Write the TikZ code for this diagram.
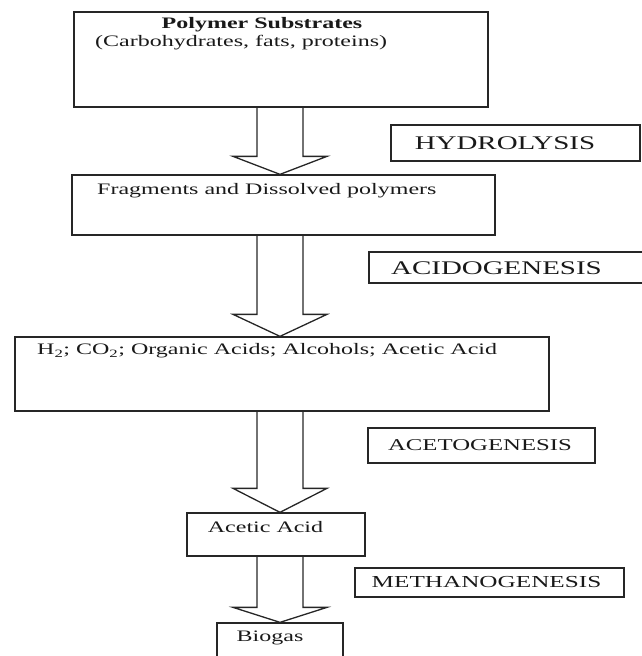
\documentclass[tikz,border=0pt]{standalone}
\usepackage{fontspec}
\setmainfont{Liberation Serif}[FakeStretch=1.5]
\usetikzlibrary{calc}
\tikzset{
  box/.style={draw=black!85, line width=1.3pt, rectangle, inner sep=0pt},
  txt/.style={inner sep=0pt, font=\fontsize{16}{19}\selectfont, text=black!90},
  bigtxt/.style={inner sep=0pt, font=\fontsize{19.3}{23}\selectfont, text=black!90},
  barrow/.style={draw=black!85, line width=1.3pt, line join=miter}
}
\newcommand\blockarrow[3]{%
  \draw[barrow] let \p1=(#1.south), \p2=(#2.north) in
    (257,\y1) -- (257,\y2+#3pt) -- (233,\y2+#3pt) -- (280,\y2)
    -- (327,\y2+#3pt) -- (303,\y2+#3pt) -- (303,\y1);}
\begin{document}
\begin{tikzpicture}[x=1pt,y=-1pt]
\useasboundingbox (0,0) rectangle (642,656);
% main boxes
\node[box, minimum width=414pt, minimum height=95pt] (b1) at (281,59.5) {};
\node[box, minimum width=423pt, minimum height=60pt] (b2) at (283.5,205) {};
\node[box, minimum width=534pt, minimum height=74pt] (b3) at (282,374) {};
\node[box, minimum width=178pt, minimum height=43pt] (b4) at (276,534.5) {};
\node[box, minimum width=126pt, minimum height=45pt] (b5) at (280,645.5) {};
% texts in main boxes
\node[txt, font=\fontsize{16}{19}\selectfont\bfseries] (t1a) at (262,25) {Polymer Substrates};
\node[txt, anchor=west] (t1b) at (95,43) {(Carbohydrates, fats, proteins)};
\node[txt, anchor=west] (t2) at (97,191) {Fragments and Dissolved polymers};
\node[txt, anchor=west] (t3) at (37,351) {H\textsubscript{2}; CO\textsubscript{2}; Organic Acids; Alcohols; Acetic Acid};
\node[txt] (t4) at (265.5,527) {Acetic Acid};
\node[txt] (t5) at (270,638) {Biogas};
% process label boxes
\node[box, minimum width=249pt, minimum height=36pt] (l1) at (515.5,143) {};
\node[bigtxt] (l1t) at (505,143) {HYDROLYSIS};
\node[box, minimum width=277pt, minimum height=31pt] (l2) at (507.5,267.5) {};
\node[bigtxt] (l2t) at (496.5,268) {ACIDOGENESIS};
\node[box, minimum width=227pt, minimum height=35pt] (l3) at (481.5,445.5) {};
\node[txt, font=\fontsize{16.5}{19}\selectfont] (l3t) at (480,445.5) {ACETOGENESIS};
\node[box, minimum width=269pt, minimum height=29pt] (l4) at (489.5,582.5) {};
\node[txt, font=\fontsize{16.8}{19}\selectfont] (l4t) at (486.5,582.5) {METHANOGENESIS};
% block arrows
\blockarrow{b1}{b2}{18}
\blockarrow{b2}{b3}{22}
\blockarrow{b3}{b4}{24}
\blockarrow{b4}{b5}{15}
\end{tikzpicture}
\end{document}
